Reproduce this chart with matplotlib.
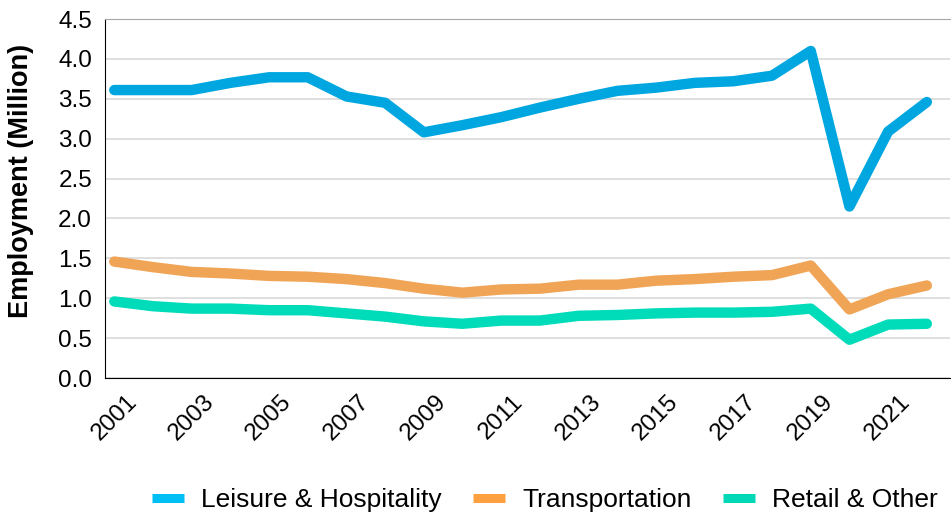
import matplotlib.pyplot as plt
from matplotlib.lines import Line2D

plt.rcParams['font.family'] = ['Liberation Sans', 'DejaVu Sans']

years = list(range(2001, 2023))
leisure = [3.61, 3.61, 3.61, 3.70, 3.77, 3.77, 3.53, 3.45, 3.08, 3.17, 3.27, 3.39, 3.50,
           3.60, 3.64, 3.70, 3.72, 3.79, 4.10, 2.15, 3.09, 3.46]
transport = [1.46, 1.39, 1.33, 1.31, 1.28, 1.27, 1.24, 1.19, 1.12, 1.07, 1.11, 1.12, 1.17,
             1.17, 1.22, 1.24, 1.27, 1.29, 1.41, 0.86, 1.05, 1.16]
retail = [0.96, 0.90, 0.87, 0.87, 0.85, 0.85, 0.81, 0.77, 0.71, 0.68, 0.72, 0.72, 0.78,
          0.79, 0.81, 0.82, 0.82, 0.83, 0.87, 0.48, 0.67, 0.68]
labels = ['Leisure & Hospitality', 'Transportation', 'Retail & Other']
line_colors = ['#00A6E0', '#F0A456', '#00DCBA']
legend_colors = ['#00BFF5', '#FFA040', '#00D8B8']

fig = plt.figure(figsize=(9.51, 5.15), dpi=100)
ax = fig.add_axes([0.110, 0.266, 0.889, 0.697])

for vals, c in zip([leisure, transport, retail], line_colors):
    ax.plot(years, vals, color=c, lw=7.5, solid_capstyle='round', solid_joinstyle='round')

ax.set_xlim(2000.75, 2022.6)
ax.set_ylim(0, 4.5)
ax.set_yticks([i * 0.5 for i in range(10)])
ax.set_yticklabels([f"{i * 0.5:.1f}" for i in range(10)], fontsize=17.5)
ax.set_xticks(years[::2])
ax.set_xticklabels([str(y) for y in years[::2]], fontsize=17.5, rotation=45, ha='center',
                   va='top')
ax.tick_params(axis='x', length=0, pad=9)
ax.tick_params(axis='y', length=0, pad=9)
ax.grid(axis='y', color='#D9D9D9', lw=1.2)
ax.set_axisbelow(True)
ax.spines['right'].set_visible(False)
ax.spines['top'].set_color('#A6A6A6')
ax.spines['left'].set_color('black')
ax.spines['bottom'].set_color('black')
ax.set_ylabel('Employment (Million)', fontsize=19.5, fontweight='bold')
ax.yaxis.set_label_coords(-0.084, 0.55)

handles = [Line2D([0], [0], color=c, lw=6.5, solid_capstyle='butt') for c in legend_colors]
fig.legend(handles, labels, loc='center', bbox_to_anchor=(0.573, 0.029), ncol=3,
           frameon=False, fontsize=19, handlelength=1.2, columnspacing=1.2,
           handletextpad=0.65, borderaxespad=0, borderpad=0)

plt.savefig('out.png', dpi=100)
